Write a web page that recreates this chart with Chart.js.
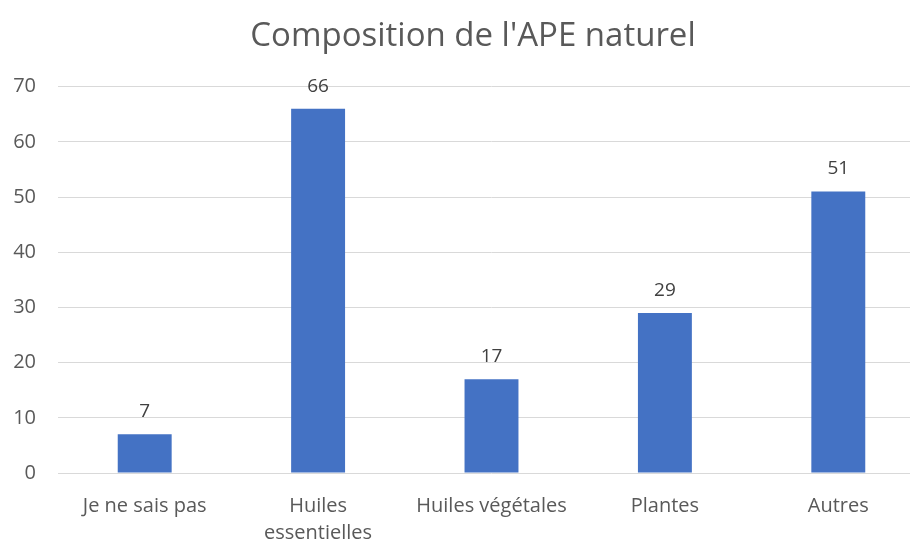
<!DOCTYPE html>
<html>
<head>
<meta charset="utf-8">
<script src="https://cdn.jsdelivr.net/npm/chart.js@4"></script>
<style>
  html, body { margin: 0; padding: 0; background: #fff; overflow: hidden; }
  #wrap { width: 946px; height: 541px; }
</style>
</head>
<body>
<div id="wrap"><canvas id="chart" width="946" height="541"></canvas></div>
<script>
const categories = ['Je ne sais pas', ['Huiles', 'essentielles'], 'Huiles végétales', 'Plantes', 'Autres'];
const values = [7, 66, 17, 29, 51];
const yTicks = [0, 10, 20, 30, 40, 50, 60, 70];

const FONT = "'Open Sans', 'Noto Sans', sans-serif";

// little plugin to write the value above each bar
const barLabels = {
  id: 'barLabels',
  afterDatasetsDraw(chart) {
    const ctx = chart.ctx;
    const meta = chart.getDatasetMeta(0);
    ctx.save();
    ctx.font = '19px ' + FONT;
    ctx.fillStyle = '#404040';
    ctx.textAlign = 'center';
    ctx.textBaseline = 'bottom';
    meta.data.forEach((bar, i) => {
      ctx.fillText(values[i], bar.x, bar.y - 13);
    });
    ctx.restore();
  }
};

new Chart('chart', {
  type: 'bar',
  data: {
    labels: categories,
    datasets: [{
      data: values,
      backgroundColor: '#4472C4',
      barPercentage: 0.311,
      categoryPercentage: 1
    }]
  },
  options: {
    responsive: false,
    animation: false,
    layout: { padding: { top: 17, left: 0, right: 0, bottom: 0 } },
    plugins: {
      legend: { display: false },
      tooltip: { enabled: false },
      title: {
        display: true,
        text: "Composition de l'APE naturel",
        color: '#595959',
        font: { family: FONT, size: 33, weight: 'normal', lineHeight: 1.2 },
        padding: { top: 0, bottom: 30 }
      }
    },
    scales: {
      x: {
        grid: { display: false },
        border: { display: false },
        ticks: {
          color: '#595959',
          font: { family: FONT, size: 20, lineHeight: 1.35 },
          padding: 12,
          maxRotation: 0,
          autoSkip: false
        },
        afterFit(scale) { scale.height = 68; }
      },
      y: {
        min: 0,
        max: 70,
        afterBuildTicks(scale) { scale.ticks = yTicks.map(v => ({ value: v })); },
        grid: { color: '#d9d9d9', lineWidth: 1, drawTicks: false },
        border: { display: false },
        ticks: {
          color: '#595959',
          font: { family: FONT, size: 20 },
          padding: 22
        },
        afterFit(scale) { scale.width = 58; }
      },
      // empty right axis, only keeps the plot's right margin
      yRight: {
        position: 'right',
        min: 0,
        max: 70,
        grid: { display: false },
        border: { display: false },
        ticks: { display: false },
        afterFit(scale) { scale.width = 21; }
      }
    }
  },
  plugins: [barLabels]
});
</script>
</body>
</html>
